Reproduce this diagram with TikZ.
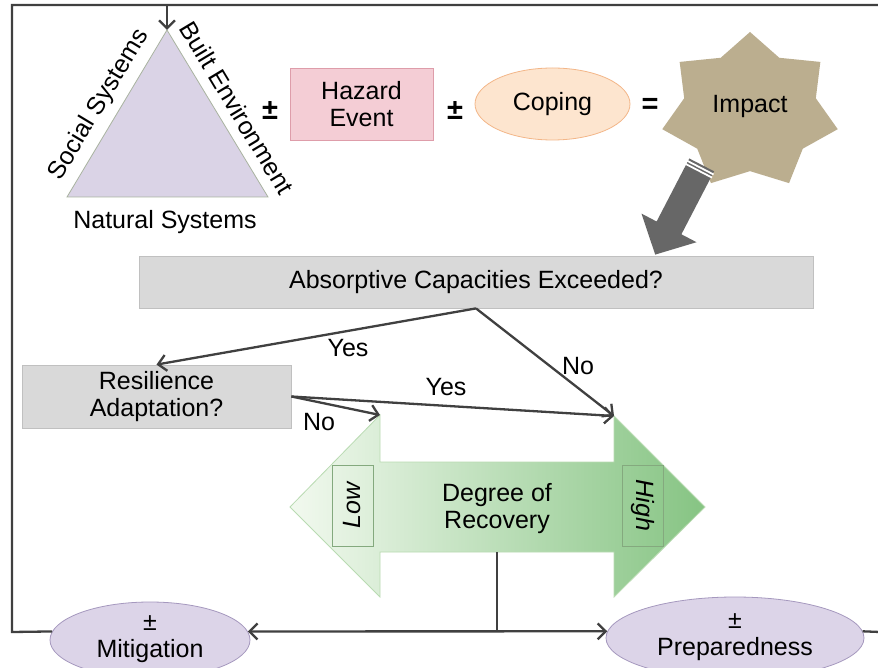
\documentclass[tikz,border=0pt]{standalone}
\usepackage{fontspec}
\setmainfont{Liberation Sans}
\usetikzlibrary{arrows.meta,shapes.geometric}
\definecolor{linegray}{HTML}{404040}
\definecolor{trifill}{HTML}{DAD3E6}
\definecolor{triedge}{HTML}{A9B3A0}
\definecolor{hazfill}{HTML}{F4CDD5}
\definecolor{hazedge}{HTML}{DE9DAA}
\definecolor{copfill}{HTML}{FDE5CF}
\definecolor{copedge}{HTML}{F3B688}
\definecolor{starfill}{HTML}{BBAE8F}
\definecolor{arrgray}{HTML}{676767}
\definecolor{boxfill}{HTML}{D9D9D9}
\definecolor{boxedge}{HTML}{C0C0C0}
\definecolor{ellfill}{HTML}{DCD4E8}
\definecolor{elledge}{HTML}{A598BE}
\definecolor{greenL}{HTML}{F2F9EF}
\definecolor{greenR}{HTML}{86C483}
\definecolor{greenedge}{HTML}{B9DBB2}
\definecolor{boxgreen}{HTML}{84A97E}
\begin{document}
\begin{tikzpicture}[x=1pt,y=-1pt,
  every node/.style={font=\fontsize{25}{27}\selectfont, inner sep=0pt},
  conn/.style={draw=linegray, line width=2.3pt},
  tipend/.style={-{Straight Barb[length=8pt,width=16pt]}},
  graybox/.style={rectangle, draw=boxedge, fill=boxfill, line width=0.8pt, align=center},
  pel/.style={ellipse, draw=elledge, fill=ellfill, line width=0.8pt},
  pmsym/.style={font=\fontsize{29}{30}\selectfont\bfseries},
  rbox/.style={rectangle, draw=boxgreen, line width=0.8pt, font=\fontsize{25}{27}\selectfont\itshape}
]
\fill[white] (0,0) rectangle (878,668);
\useasboundingbox (0,0) rectangle (878,668);

% triangle
\coordinate (apex) at (167,30);
\coordinate (tbl) at (67,197);
\coordinate (tbr) at (268,197);
\draw[fill=trifill, draw=triedge, line width=0.8pt] (apex) -- (tbl) -- (tbr) -- cycle;
\node[rotate=59] (soc) at (99,105) {Social Systems};
\node[rotate=-59] (built) at (237,108) {Built Environment};
\node (nat) at (165,222) {Natural Systems};

% top row
\node[pmsym] (pm1) at (270,111) {±};
\node[rectangle, draw=hazedge, fill=hazfill, line width=0.8pt, minimum width=143pt, minimum height=72pt, align=center] (haz) at (361.5,104) {Hazard\\Event};
\node[pmsym] (pm2) at (455,111) {±};
\node[ellipse, draw=copedge, fill=copfill, line width=0.8pt, minimum width=155pt, minimum height=72pt] (cop) at (552.5,104) {\raisebox{-2.5pt}{Coping}};
\node[pmsym] (eq) at (650,106) {=};

% star
\fill[starfill] plot[samples at={0,...,13}, variable=\i]
  ({750+90*(1-0.25*mod(\i,2))*cos(90+\i*360/14)},{111.5-79.5*(1-0.25*mod(\i,2))*sin(90+\i*360/14)}) -- cycle;
\node (imp) at (750,106) {Impact};

% big gray arrow
\fill[arrgray] (689.3,158.5) -- (714.1,171.3) -- (681.4,234.3) -- (696.5,242.2) -- (655.2,254.6) -- (641.5,213.6) -- (656.6,221.5) -- cycle;
\draw[white, line width=1.8pt] (687,160.7) -- (713.6,174.5);
\draw[white, line width=1.8pt] (685.4,163.8) -- (712,177.6);

% decision boxes
\node[graybox, minimum width=674pt, minimum height=52pt] (abs) at (476,282) {\raisebox{-2.5pt}{Absorptive Capacities Exceeded?}};
\node[graybox, minimum width=269pt, minimum height=63pt] (res) at (156.5,396.5) {Resilience\\Adaptation?};

% double arrow
\coordinate (lowtop) at (380,415);
\coordinate (hightop) at (614,416);
\coordinate (shaftbot) at (497,552);
\path[draw=greenedge, line width=0.8pt, left color=greenL, right color=greenR]
  (290,507) -- (380,415) -- (380,462) -- (614,462) -- (614,416) -- (705,507)
  -- (614,597) -- (614,552) -- (380,552) -- (380,597) -- cycle;
\node[rbox, rotate=90, minimum width=81pt, minimum height=41pt] (low) at (352.5,505.5) {Low};
\node[rbox, rotate=-90, minimum width=81pt, minimum height=41pt] (high) at (642.5,505.5) {High};
\node[align=center] (deg) at (497,509) {Degree of\\Recovery};

% connectors
\draw[conn, tipend] (abs.south) -- (res.north);
\draw[conn, tipend] (abs.south) -- (hightop);
\draw[conn, tipend] (res.east) -- (hightop);
\draw[conn, tipend] (res.east) -- (lowtop);
\node (yes1) at (348,348) {Yes};
\node (no1) at (578,366) {No};
\node (yes2) at (446,387) {Yes};
\node (no2) at (319,422) {No};

% bottom ellipses
\node[pel, minimum width=200pt, minimum height=76pt] (mit) at (150,640) {};
\node[align=center] (mittext) at (150,639) {±\\Mitigation};
\node[pel, minimum width=258pt, minimum height=82pt] (prep) at (735,638) {};
\node[align=center] (preptext) at (735,637) {±\\Preparedness};

\coordinate (jn) at (497,632);
\coordinate (lbot) at (12,632);
\coordinate (ltop) at (12,5);
\coordinate (rtop) at (880,5);
\coordinate (topin) at (167,5);
\coordinate (rbot) at (880,632);
\draw[conn] (shaftbot) -- (jn);
\draw[conn, {Straight Barb[length=8pt,width=16pt]}-{Straight Barb[length=8pt,width=16pt]}] (mit.5) -- (prep.177);
\draw[conn] (mit.175) -- (lbot) -- (ltop) -- (rtop);
\draw[conn] (prep.3) -- (rbot);
\draw[conn, tipend] (topin) -- (apex);
\end{tikzpicture}
\end{document}
